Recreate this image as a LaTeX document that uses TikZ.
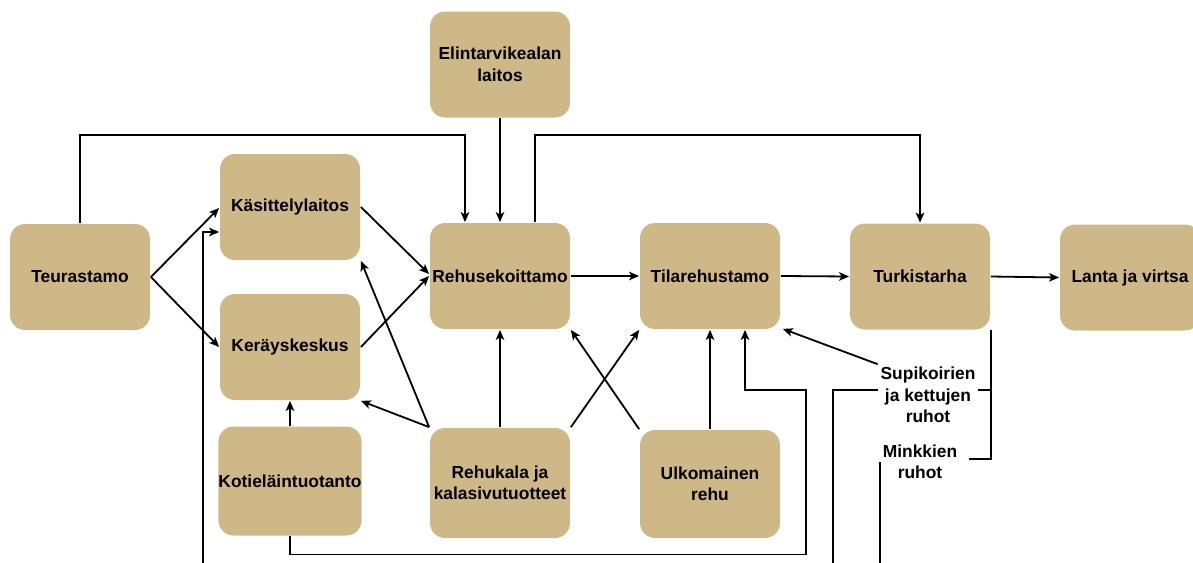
\documentclass[tikz,border=0pt]{standalone}
\usepackage{fontspec}
\setmainfont{Liberation Sans}
\usetikzlibrary{arrows.meta}
\definecolor{boxtan}{RGB}{207,184,135}

\begin{document}
\begin{tikzpicture}[x=1pt,y=-1pt,
  box/.style={fill=boxtan,rounded corners=15pt,minimum width=140pt,minimum height=106pt,
    inner sep=0pt,align=center,font=\bfseries\fontsize{17.4}{21.5}\selectfont},
  lbl/.style={inner sep=2pt,align=center,font=\bfseries\fontsize{17.4}{21.5}\selectfont},
  every path/.style={line width=1.8pt},
  ->/.style={-{Stealth[length=10pt,width=8.5pt,inset=2.5pt]}}]
  \useasboundingbox (0,0) rectangle (1193,562);

  \node[box] (elin)  at (500,64.5)  {Elintarvikealan\\laitos};
  \node[box] (kas)   at (290,207)   {Käsittelylaitos};
  \node[box] (teur)  at (80,277)    {Teurastamo};
  \node[box] (rehu)  at (500,276)   {Rehusekoittamo};
  \node[box] (tila)  at (710,276)   {Tilarehustamo};
  \node[box] (turk)  at (920,276.5) {Turkistarha};
  \node[box] (lanta) at (1130,277.5){Lanta ja virtsa};
  \node[box] (ker)   at (290,347)   {Keräyskeskus};
  \node[box,minimum height=109pt] (kot)  at (290,481) {Kotieläintuotanto};
  \node[box,minimum height=110pt] (kala) at (500,483) {Rehukala ja\\kalasivutuotteet};
  \node[box,minimum height=108pt] (ulko) at (710,484) {Ulkomainen\\rehu};

  \node[lbl] (supi) at (928,395) {Supikoirien\\ja kettujen\\ruhot};
  \node[lbl] (mink) at (920,462) {Minkkien\\ruhot};

  % lines coming in from below the picture
  \coordinate (inA) at (203,575);
  \coordinate (inB) at (833,575);
  \coordinate (inC) at (880,575);

  % top routes
  \draw[->] (teur.north) |- (465,135) -- ([xshift=-35pt]rehu.north);
  \draw[->] (elin) -- (rehu);
  \draw[->] ([xshift=35pt]rehu.north) |- (920,135) -- (turk.north);

  \draw[->] (teur.east) -- ([yshift=-1pt]kas.west);
  \draw[->] (teur.east) -- (ker.west);
  \draw[->] (kas.east) -- ([yshift=2pt]rehu.west);
  \draw[->] (ker.east) -- (rehu.west);
  \foreach \a/\b in {rehu/tila,tila/turk,turk/lanta}
    \draw[->] (\a.east) -- (\b.west);

  % from below
  \draw[->] (kot) -- (ker);
  \draw[->] (kala) -- (rehu);
  \draw[->] (ulko) -- (tila);
  \draw[->] (kala.north west) -- (kas.south east);
  \draw[->] (kala.north west) -- (ker.south east);
  \draw[->] (kala.north east) -- (tila.south west);
  \draw[->] (ulko.north west) -- (rehu.south east);
  \draw[->] (kot.south) -- ++(0,18) -| (806,390) -| ([xshift=35pt]tila.south);
  \draw[->] (inA) |- ([yshift=-25pt]kas.west);

  % carcasses
  \draw[->] (supi.north west) -- ([xshift=2pt,yshift=1pt]tila.south east);
  \draw (inB) |- ([yshift=5pt]supi.west);
  \draw ([yshift=5pt]supi.east) -| (turk.south east);
  \draw (mink.east) ++(9pt,3pt) -| (turk.south east);
  \draw (inC) -- (inC |- mink.west);
\end{tikzpicture}
\end{document}
